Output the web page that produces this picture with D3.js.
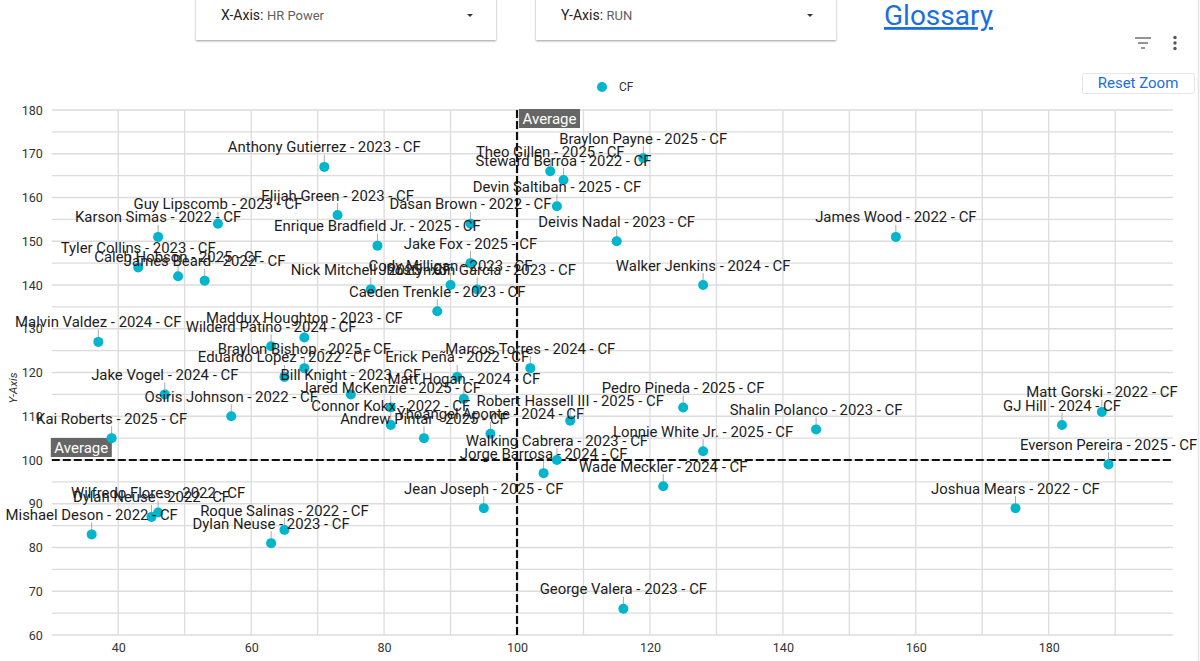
<!DOCTYPE html>
<html>
<head>
<meta charset="utf-8">
<script src="https://cdn.jsdelivr.net/npm/d3@7"></script>
<style>
	html, body { margin: 0; padding: 0; background: #fff; overflow: hidden; }
	svg { display: block; font-family: Roboto, sans-serif; }
	.tick text { font-family: Roboto, sans-serif; }
</style>
</head>
<body>
<script>
// chart values
var players = ["Anthony Gutierrez", "Braylon Payne", "Theo Gillen", "Steward Berroa", "Devin Saltiban", "Dasan Brown", "Elijah Green", "Guy Lipscomb", "Karson Simas", "Enrique Bradfield Jr.", "Deivis Nadal", "James Wood", "Jake Fox", "Tyler Collins", "Caleb Hobson", "James Beard", "Nick Mitchell", "Cody Milligan", "Jhostynxon Garcia", "Walker Jenkins", "Caeden Trenkle", "Maddux Houghton", "Wilderd Patino", "Malvin Valdez", "Braylon Bishop", "Eduardo Lopez", "Bill Knight", "Jake Vogel", "Osiris Johnson", "Kai Roberts", "Jared McKenzie", "Connor Kokx", "Andrew Pintar", "Yhoangel Aponte", "Robert Hassell III", "Walking Cabrera", "Jorge Barrosa", "Wade Meckler", "Matt Hogan", "Erick Peña", "Marcos Torres", "Pedro Pineda", "Shalin Polanco", "Lonnie White Jr.", "Matt Gorski", "GJ Hill", "Everson Pereira", "Joshua Mears", "Jean Joseph", "George Valera", "Mishael Deson", "Dylan Neuse", "Wilfredo Flores", "Roque Salinas", "Dylan Neuse"];
var years = [2023, 2025, 2025, 2022, 2025, 2022, 2023, 2023, 2022, 2025, 2023, 2022, 2025, 2023, 2025, 2022, 2025, 2023, 2023, 2024, 2023, 2023, 2024, 2024, 2025, 2022, 2023, 2024, 2022, 2025, 2025, 2022, 2025, 2024, 2025, 2023, 2024, 2024, 2024, 2022, 2024, 2025, 2023, 2025, 2022, 2024, 2025, 2022, 2025, 2023, 2022, 2022, 2022, 2022, 2023];
var hrPower = [71, 119, 105, 107, 106, 93, 73, 55, 46, 79, 115, 157, 93, 43, 49, 53, 78, 90, 94, 128, 88, 68, 63, 37, 68, 65, 75, 47, 57, 39, 81, 81, 86, 96, 108, 106, 104, 122, 92, 91, 102, 125, 145, 128, 188, 182, 189, 175, 95, 116, 36, 45, 46, 65, 63];
var run = [167, 169, 166, 164, 158, 154, 156, 154, 151, 149, 150, 151, 145, 144, 142, 141, 139, 140, 139, 140, 134, 128, 126, 127, 121, 119, 115, 115, 110, 105, 112, 108, 105, 106, 109, 100, 97, 94, 114, 119, 121, 112, 107, 102, 111, 108, 99, 89, 89, 66, 83, 87, 88, 84, 81];
var position = "CF";
var xTicks = [40, 60, 80, 100, 120, 140, 160, 180];
var xGrid = [40, 50, 60, 70, 80, 90, 100, 110, 120, 130, 140, 150, 160, 170, 180, 190];
var yTicks = [60, 70, 80, 90, 100, 110, 120, 130, 140, 150, 160, 170, 180];
var yGrid = [65, 75, 85, 95, 105, 115, 125, 135, 145, 155, 165, 175];
var averageX = 100;
var averageY = 100;

var width = 1200, height = 661;
var teal = "#00b5cc";

var svg = d3.select("body").append("svg")
	.attr("width", width)
	.attr("height", height);

var x = d3.scaleLinear().domain([30, 198.7]).range([51.8, 1173]);
var y = d3.scaleLinear().domain([60, 180]).range([635, 110]);

// page edge on the right
svg.append("line").attr("x1", 1198.5).attr("x2", 1198.5).attr("y1", 0).attr("y2", height)
	.attr("stroke", "#e4e4e4").attr("stroke-width", 1.5);

// dropdown cards
var defs = svg.append("defs");
var shadow = defs.append("filter").attr("id", "card-shadow")
	.attr("x", "-5%").attr("y", "-20%").attr("width", "110%").attr("height", "160%");
shadow.append("feDropShadow").attr("dx", 0).attr("dy", 1).attr("stdDeviation", 1.2)
	.attr("flood-color", "#000").attr("flood-opacity", 0.4);

function addDropdown(left, name, value) {
	svg.append("rect")
		.attr("x", left).attr("y", -10).attr("width", 300).attr("height", 50)
		.attr("fill", "#fff").attr("filter", "url(#card-shadow)");
	var label = svg.append("text")
		.attr("x", left + 25).attr("y", 20)
		.attr("font-size", 14).attr("fill", "#222");
	label.append("tspan").text(name + ": ");
	label.append("tspan").attr("fill", "#5f5f5f").attr("font-size", 13).text(value);
	svg.append("path")
		.attr("d", d3.line()([[left + 271, 14], [left + 277, 14], [left + 274, 17]]))
		.attr("fill", "#333");
};
addDropdown(196, "X-Axis", "HR Power");
addDropdown(536, "Y-Axis", "RUN");

// glossary link
svg.append("text")
	.attr("x", 884).attr("y", 25)
	.attr("font-size", 28).attr("fill", "#1a6fdc")
	.attr("text-decoration", "underline")
	.text("Glossary");

// toolbar icons
[[1135, 1151, 38], [1138, 1148, 43], [1141, 1145, 48]].forEach(function (d) {
	svg.append("line").attr("x1", d[0]).attr("x2", d[1]).attr("y1", d[2]).attr("y2", d[2])
		.attr("stroke", "#666").attr("stroke-width", 1.4);
});
[37.5, 43, 48.5].forEach(function (d) {
	svg.append("circle").attr("cx", 1175).attr("cy", d).attr("r", 1.7).attr("fill", "#555");
});

// reset zoom button
svg.append("rect")
	.attr("x", 1082.5).attr("y", 73.5).attr("width", 112).attr("height", 20).attr("rx", 2)
	.attr("fill", "#fff").attr("stroke", "#e3e6ea");
svg.append("text")
	.attr("x", 1138).attr("y", 88)
	.attr("text-anchor", "middle")
	.attr("font-size", 15).attr("fill", "#1a6fdc")
	.text("Reset Zoom");

// legend
svg.append("circle").attr("cx", 602).attr("cy", 87).attr("r", 5).attr("fill", teal);
svg.append("text").attr("x", 619).attr("y", 91).attr("font-size", 12).attr("fill", "#333").text(position);

// gridlines
var gridColor = "#dcdcdc";
svg.append("g").selectAll("line").data(yGrid.concat(yTicks)).join("line")
	.attr("x1", x.range()[0]).attr("x2", x.range()[1])
	.attr("y1", function (d) { return y(d); }).attr("y2", function (d) { return y(d); })
	.attr("stroke", gridColor).attr("stroke-width", 1.3);
svg.append("g").selectAll("line").data(xGrid).join("line")
	.attr("x1", function (d) { return x(d); }).attr("x2", function (d) { return x(d); })
	.attr("y1", y.range()[1]).attr("y2", y.range()[0])
	.attr("stroke", gridColor).attr("stroke-width", 1.3);

// axes
var xAxis = svg.append("g")
	.attr("transform", "translate(0," + y.range()[0] + ")")
	.call(d3.axisBottom(x).tickValues(xTicks).tickSize(0).tickPadding(8));
var yAxis = svg.append("g")
	.attr("transform", "translate(" + x.range()[0] + ",0)")
	.call(d3.axisLeft(y).tickValues(yTicks).tickSize(0).tickPadding(9));
[xAxis, yAxis].forEach(function (a) {
	a.select(".domain").remove();
	a.selectAll("text").attr("font-size", 12.5).attr("fill", "#333");
});

svg.append("text")
	.attr("transform", "translate(17,388) rotate(-90)")
	.attr("text-anchor", "middle")
	.attr("font-size", 11.5).attr("font-style", "italic").attr("fill", "#333")
	.text("Y-Axis");

// average lines
svg.append("line")
	.attr("x1", x(averageX)).attr("x2", x(averageX))
	.attr("y1", y.range()[1]).attr("y2", y.range()[0])
	.attr("stroke", "#111").attr("stroke-width", 2.2).attr("stroke-dasharray", "8 3");
svg.append("line")
	.attr("x1", x.range()[0]).attr("x2", x.range()[1])
	.attr("y1", y(averageY)).attr("y2", y(averageY))
	.attr("stroke", "#111").attr("stroke-width", 2.2).attr("stroke-dasharray", "8 3");

function addAverageTag(left, top) {
	svg.append("rect")
		.attr("x", left).attr("y", top).attr("width", 61).attr("height", 19)
		.attr("fill", "#666");
	svg.append("text")
		.attr("x", left + 30.5).attr("y", top + 15)
		.attr("text-anchor", "middle")
		.attr("font-size", 15).attr("fill", "#fff")
		.text("Average");
};
addAverageTag(x(averageX) + 2, y.range()[1] - 1);
addAverageTag(x.range()[0] - 1, y(averageY) - 22);

// points with leader lines and labels
var points = d3.range(players.length);
var marks = svg.append("g");
marks.selectAll("line").data(points).join("line")
	.attr("x1", function (i) { return x(hrPower[i]); })
	.attr("x2", function (i) { return x(hrPower[i]); })
	.attr("y1", function (i) { return y(run[i]) - 12; })
	.attr("y2", function (i) { return y(run[i]); })
	.attr("stroke", "#aaa").attr("stroke-width", 1);
marks.selectAll("circle").data(points).join("circle")
	.attr("cx", function (i) { return x(hrPower[i]); })
	.attr("cy", function (i) { return y(run[i]); })
	.attr("r", 5)
	.attr("fill", teal);
marks.selectAll("text").data(points).join("text")
	.attr("x", function (i) { return x(hrPower[i]); })
	.attr("y", function (i) { return y(run[i]) - 14.5; })
	.attr("text-anchor", "middle")
	.attr("font-size", 14.9)
	.attr("fill", "#1c1c1c")
	.text(function (i) { return players[i] + " - " + years[i] + " - " + position; });
</script>
</body>
</html>
